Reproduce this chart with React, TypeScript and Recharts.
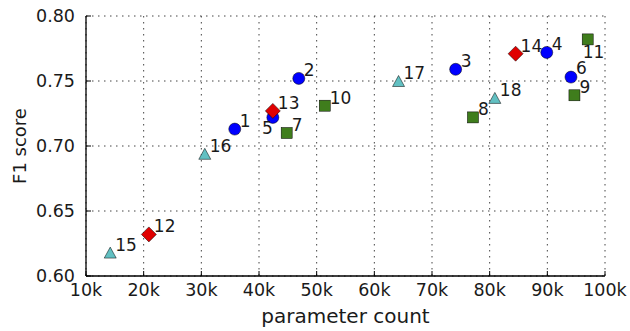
import { ScatterChart, Scatter, XAxis, YAxis, CartesianGrid } from 'recharts';

// model ids, parameter counts and F1 scores, grouped by marker type
const circleIds = [1, 2, 3, 4, 5, 6];
const circleParams = [35800, 46900, 74100, 89900, 42400, 94100];
const circleF1 = [0.713, 0.752, 0.759, 0.772, 0.722, 0.753];

const squareIds = [7, 8, 9, 10, 11];
const squareParams = [44800, 77100, 94700, 51400, 97000];
const squareF1 = [0.71, 0.722, 0.739, 0.731, 0.782];

const diamondIds = [12, 13, 14];
const diamondParams = [20900, 42400, 84500];
const diamondF1 = [0.632, 0.727, 0.771];

const triangleIds = [15, 16, 17, 18];
const triangleParams = [14200, 30600, 64200, 80900];
const triangleF1 = [0.618, 0.694, 0.75, 0.737];

const xTicks = [10000, 20000, 30000, 40000, 50000, 60000, 70000, 80000, 90000, 100000];
const yTicks = [0.6, 0.65, 0.7, 0.75, 0.8];

const FONT = '"DejaVu Sans", sans-serif';
const TEXT = '#1a1a1a';

// where the number goes relative to its marker (default: up-right)
const labelPlacement: Record<number, { dx: number; dy: number; anchor: string }> = {
    5: { dx: 0, dy: 17, anchor: 'end' },
    6: { dx: 5, dy: -3, anchor: 'start' },
    11: { dx: -5, dy: 19, anchor: 'start' },
};
const defaultPlacement = { dx: 5, dy: -2, anchor: 'start' };

const toPoints = (ids: number[], params: number[], f1: number[]) =>
    ids.map((id, i) => ({ id, params: params[i], f1: f1[i] }));

const makeShape = (kind: string, color: string) => (props: any) => {
    const { cx, cy, payload } = props;
    let mark;
    if (kind === 'circle') {
        mark = <circle cx={cx} cy={cy} r={6} fill={color} stroke="#000" strokeWidth={0.5} />;
    } else if (kind === 'square') {
        mark = <rect x={cx - 5.5} y={cy - 5.5} width={11} height={11} fill={color} stroke="#000" strokeWidth={0.5} />;
    } else if (kind === 'diamond') {
        mark = (
            <polygon
                points={`${cx},${cy - 7.5} ${cx + 7.5},${cy} ${cx},${cy + 7.5} ${cx - 7.5},${cy}`}
                fill={color}
                stroke="#000"
                strokeWidth={0.5}
            />
        );
    } else {
        mark = (
            <polygon
                points={`${cx},${cy - 5.5} ${cx + 6},${cy + 5.5} ${cx - 6},${cy + 5.5}`}
                fill={color}
                stroke="#000"
                strokeWidth={0.5}
            />
        );
    }
    const p = labelPlacement[payload.id] || defaultPlacement;
    return (
        <g>
            {mark}
            <text
                x={cx + p.dx}
                y={cy + p.dy}
                textAnchor={p.anchor as any}
                fontSize={17}
                fontFamily={FONT}
                fill={TEXT}
            >
                {payload.id}
            </text>
        </g>
    );
};

const XLabel = (props: any) => {
    const vb = props.viewBox || { x: 86, y: 276, width: 519, height: 55 };
    return (
        <text x={vb.x + vb.width / 2} y={vb.y + vb.height - 8} textAnchor="middle" fontSize={20} fontFamily={FONT} fill={TEXT}>
            parameter count
        </text>
    );
};

const YLabel = (props: any) => {
    const vb = props.viewBox || { x: 0, y: 16, width: 86, height: 260 };
    const x = vb.x + 26;
    const y = vb.y + vb.height / 2;
    return (
        <text x={x} y={y} transform={`rotate(-90, ${x}, ${y})`} textAnchor="middle" fontSize={18} fontFamily={FONT} fill={TEXT}>
            F1 score
        </text>
    );
};

const frame = { stroke: '#000', strokeWidth: 1.3 };
const tickStyle = { fontSize: 17.5, fill: TEXT, fontFamily: FONT };

export default function App() {
    return (
        <div style={{ position: 'absolute', left: 0, top: 0, background: '#fff' }}>
            <ScatterChart width={630} height={331} margin={{ top: 16, right: 25, bottom: 0, left: 0 }}>
                <CartesianGrid stroke="#444" strokeDasharray="1.5 4.5" />
                <XAxis
                    dataKey="params"
                    type="number"
                    domain={[10000, 100000]}
                    ticks={xTicks}
                    tickFormatter={(v: number) => `${v / 1000}k`}
                    axisLine={frame}
                    tickLine={{ stroke: '#000' }}
                    tickSize={-5}
                    tickMargin={13}
                    height={55}
                    tick={tickStyle}
                    label={{ content: XLabel }}
                    allowDataOverflow
                />
                <XAxis
                    xAxisId="top"
                    orientation="top"
                    type="number"
                    domain={[10000, 100000]}
                    ticks={xTicks}
                    tickFormatter={() => ''}
                    axisLine={frame}
                    tickLine={{ stroke: '#000' }}
                    tickSize={-5}
                    height={0}
                    allowDataOverflow
                />
                <YAxis
                    dataKey="f1"
                    type="number"
                    domain={[0.6, 0.8]}
                    ticks={yTicks}
                    tickFormatter={(v: number) => v.toFixed(2)}
                    axisLine={frame}
                    tickLine={{ stroke: '#000' }}
                    tickSize={-5}
                    tickMargin={16}
                    width={86}
                    tick={tickStyle}
                    label={{ content: YLabel }}
                    allowDataOverflow
                />
                <YAxis
                    yAxisId="right"
                    orientation="right"
                    type="number"
                    domain={[0.6, 0.8]}
                    ticks={yTicks}
                    tickFormatter={() => ''}
                    axisLine={frame}
                    tickLine={{ stroke: '#000' }}
                    tickSize={-5}
                    width={0}
                    allowDataOverflow
                />
                <Scatter data={toPoints(circleIds, circleParams, circleF1)} shape={makeShape('circle', '#0000ff')} isAnimationActive={false} />
                <Scatter data={toPoints(squareIds, squareParams, squareF1)} shape={makeShape('square', '#3f7d1c')} isAnimationActive={false} />
                <Scatter data={toPoints(diamondIds, diamondParams, diamondF1)} shape={makeShape('diamond', '#e00000')} isAnimationActive={false} />
                <Scatter data={toPoints(triangleIds, triangleParams, triangleF1)} shape={makeShape('triangle', '#62c0c2')} isAnimationActive={false} />
            </ScatterChart>
        </div>
    );
}
